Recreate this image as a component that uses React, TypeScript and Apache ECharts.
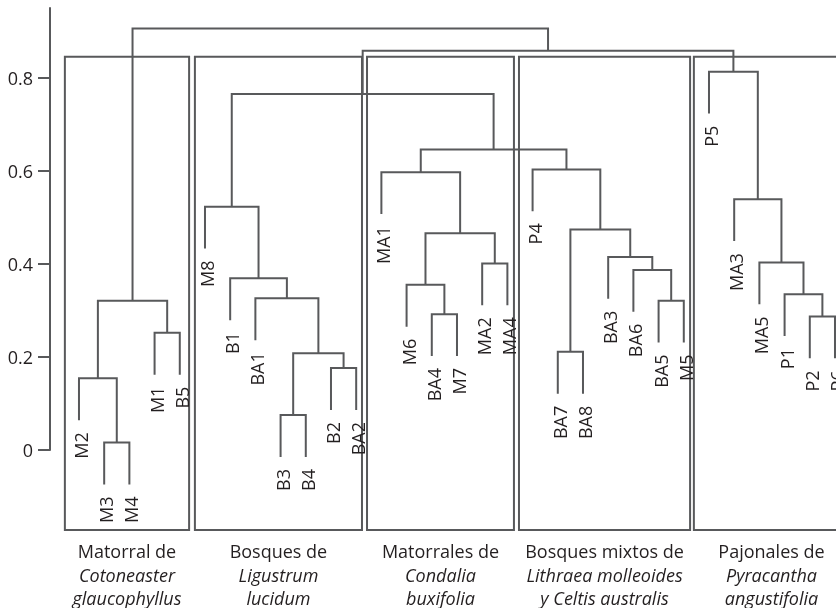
import React, { useEffect, useRef } from "react";
import * as echarts from "echarts";

// Leaves of the dendrogram, left to right
const leafLabels = [
  "M2", "M3", "M4", "M1", "B5",
  "M8", "B1", "BA1", "B3", "B4", "B2", "BA2",
  "MA1", "M6", "BA4", "M7", "MA2", "MA4",
  "P4", "BA7", "BA8", "BA3", "BA6", "BA5", "M5",
  "P5", "MA3", "MA5", "P1", "P2", "P6",
];

// Merge table (R hclust convention): negative = leaf number (1-based), positive = earlier merge (1-based)
const mergeLeft = [-2, -1, -4, 2, -9, -11, 5, -8, -7, -6, -15, -14, -17, 12, -13, -20, -24, -23, -22, 16, -19, 15, 10, -30, -29, -28, -27, -26, 23, 4];
const mergeRight = [-3, 1, -5, 3, -10, -12, 6, 7, 8, 9, -16, 11, -18, 13, 14, -21, -25, 17, 18, 19, 20, 21, 22, -31, 24, 25, 26, 27, 28, 29];
const mergeHeight = [0.016, 0.154, 0.252, 0.321, 0.075, 0.176, 0.208, 0.326, 0.369, 0.523, 0.292, 0.355, 0.401, 0.466, 0.597, 0.211, 0.321, 0.387, 0.415, 0.474, 0.603, 0.646, 0.765, 0.287, 0.335, 0.403, 0.539, 0.813, 0.858, 0.906];

const yTicks = [0, 0.2, 0.4, 0.6, 0.8];

// Groups (boxes)
const groupFirstLeaf = [0, 5, 12, 18, 25];
const groupLastLeaf = [4, 11, 17, 24, 30];
const groupTitle = ["Matorral de", "Bosques de", "Matorrales de", "Bosques mixtos de", "Pajonales de"];
const groupSpecies1 = ["Cotoneaster", "Ligustrum", "Condalia", "Lithraea molleoides", "Pyracantha"];
const groupSpecies2 = ["glaucophyllus", "lucidum", "buxifolia", "y Celtis australis", "angustifolia"];

// ---- layout / style constants ----
const HANG = 0.09; // leaf hang below parent merge
const BOX_TOP = 0.845;
const BOX_BOTTOM = -0.172;
const boxLeftPad = [0.56, 0.4, 0.57, 0.54, 0.6];
const boxRightPad = [0.37, 0.23, 0.26, 0.25, 0.56];
const LINE = "#58595b";
const TEXT = "#231f20";
const FONT = '"Open Sans", "Noto Sans", sans-serif';
const LW = 2;

// derived tree geometry (data space)
const mergeX: number[] = [];
const refX = (r: number) => (r < 0 ? -r - 1 : mergeX[r - 1]);
mergeLeft.forEach((l, k) => {
  mergeX[k] = (refX(l) + refX(mergeRight[k])) / 2;
});
const leafParentH: number[] = new Array(leafLabels.length).fill(0);
mergeLeft.forEach((l, k) => {
  if (l < 0) leafParentH[-l - 1] = mergeHeight[k];
  if (mergeRight[k] < 0) leafParentH[-mergeRight[k] - 1] = mergeHeight[k];
});
const childBottom = (r: number, h: number) => (r < 0 ? h - HANG : mergeHeight[r - 1]);

export default function App() {
  const ref = useRef<HTMLDivElement>(null);
  useEffect(() => {
    if (!ref.current) return;
    const chart = echarts.init(ref.current, null, { renderer: "svg" });

    const linkData = mergeHeight.map((h, k) => [mergeX[k], h, k]);
    const leafData = leafLabels.map((n, i) => [i, leafParentH[i] - HANG, i]);
    const groupData = groupFirstLeaf.map((f, g) => [f, groupLastLeaf[g], g]);

    chart.setOption({
      animation: false,
      grid: { left: 50, right: 0, top: 8, bottom: 158 },
      xAxis: { type: "value", min: -1.15, max: 30.04, show: false },
      yAxis: {
        type: "value",
        min: 0,
        max: 0.95,
        axisLine: { show: true, onZero: false, lineStyle: { color: LINE, width: LW } },
        axisTick: { show: true, customValues: yTicks, length: 12, lineStyle: { color: LINE, width: LW } },
        axisLabel: {
          customValues: yTicks,
          margin: 17,
          color: TEXT,
          fontSize: 18,
          fontFamily: FONT,
        },
        splitLine: { show: false },
      },
      series: [
        {
          type: "custom",
          clip: false,
          data: groupData,
          renderItem: (params: any, api: any) => {
            const g = params.dataIndex;
            const f = groupFirstLeaf[g];
            const l = groupLastLeaf[g];
            const p0 = api.coord([f - boxLeftPad[g], BOX_TOP]);
            const p1 = api.coord([l + boxRightPad[g], BOX_BOTTOM]);
            const cx = (p0[0] + p1[0]) / 2;
            const base = p1[1];
            return {
              type: "group",
              children: [
                {
                  type: "rect",
                  shape: { x: p0[0], y: p0[1], width: p1[0] - p0[0], height: p1[1] - p0[1] },
                  style: { fill: "none", stroke: LINE, lineWidth: LW },
                },
                {
                  type: "text",
                  x: cx,
                  y: base + 21,
                  style: { text: groupTitle[g], align: "center", verticalAlign: "middle", fill: TEXT, font: `18px ${FONT}` },
                },
                {
                  type: "text",
                  x: cx,
                  y: base + 44.5,
                  style: { text: groupSpecies1[g], align: "center", verticalAlign: "middle", fill: TEXT, font: `italic 18px ${FONT}` },
                },
                {
                  type: "text",
                  x: cx,
                  y: base + 67.5,
                  style: { text: groupSpecies2[g], align: "center", verticalAlign: "middle", fill: TEXT, font: `italic 18px ${FONT}` },
                },
              ],
            };
          },
        },
        {
          type: "custom",
          clip: false,
          data: linkData,
          renderItem: (params: any, api: any) => {
            const k = params.dataIndex;
            const h = mergeHeight[k];
            const l = mergeLeft[k];
            const r = mergeRight[k];
            const a = api.coord([refX(l), childBottom(l, h)]);
            const b = api.coord([refX(l), h]);
            const c = api.coord([refX(r), h]);
            const d = api.coord([refX(r), childBottom(r, h)]);
            return {
              type: "polyline",
              shape: { points: [a, b, c, d] },
              style: { fill: "none", stroke: LINE, lineWidth: LW },
            };
          },
        },
        {
          type: "custom",
          clip: false,
          data: leafData,
          renderItem: (params: any, api: any) => {
            const i = params.dataIndex;
            const p = api.coord([i, leafParentH[i] - HANG]);
            return {
              type: "text",
              x: p[0] + 2,
              y: p[1] + 12,
              rotation: Math.PI / 2,
              style: {
                text: leafLabels[i],
                align: "right",
                verticalAlign: "middle",
                fill: TEXT,
                font: `18px ${FONT}`,
              },
            };
          },
        },
      ],
    });
    return () => chart.dispose();
  }, []);
  return <div ref={ref} style={{ position: "fixed", left: 0, top: 0, width: 836, height: 608 }} />;
}
